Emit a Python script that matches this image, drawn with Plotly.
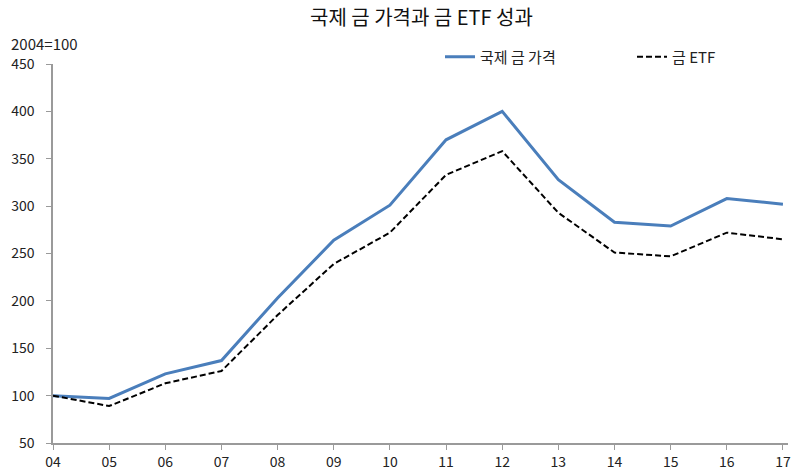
import plotly.graph_objects as go

categories = ["04", "05", "06", "07", "08", "09", "10", "11", "12", "13", "14", "15", "16", "17"]
gold_price = [100, 97, 123, 137, 203, 264, 301, 370, 400, 328, 283, 279, 308, 302]
gold_etf = [100, 89, 113, 126, 185, 239, 272, 333, 358, 293, 251, 247, 272, 265]
y_ticks = [50, 100, 150, 200, 250, 300, 350, 400, 450]

xs = list(range(len(categories)))
font = "Noto Sans CJK KR, Noto Sans, sans-serif"

L, R, T, B = 53, 12, 64, 32
PW, PH = 800 - L - R, 475 - T - B

def px_x(x):
    return (x - L) / PW

def px_y(y):
    return (475 - B - y) / PH

fig = go.Figure()
fig.add_trace(go.Scatter(x=xs, y=gold_price, mode="lines", name="국제 금 가격",
                         line=dict(color="#4A7EBB", width=3), legend="legend"))
fig.add_trace(go.Scatter(x=xs, y=gold_etf, mode="lines", name="금 ETF",
                         line=dict(color="#000000", width=2, dash="6px,3px"), legend="legend2"))

leg_common = dict(orientation="h", xanchor="left", y=px_y(57), yanchor="middle",
                  font=dict(size=15, color="#222"), bgcolor="rgba(0,0,0,0)")

fig.update_layout(
    template="none",
    width=800, height=475,
    margin=dict(l=L, r=R, t=T, b=B, autoexpand=False),
    paper_bgcolor="white", plot_bgcolor="white",
    font=dict(family=font, size=13, color="#222"),
    legend=dict(x=px_x(440), **leg_common),
    legend2=dict(x=px_x(632), **leg_common),
    showlegend=True,
)
fig.update_xaxes(
    tickmode="array", tickvals=xs, ticktext=categories, range=[0, 13.09], automargin=False,
    showline=True, linecolor="#9a9a9a", linewidth=1.5, ticks="outside", ticklen=5,
    tickcolor="#9a9a9a", showgrid=False, zeroline=False, tickfont=dict(size=14, color="#222"),
)
fig.update_yaxes(
    tickmode="array", tickvals=y_ticks, range=[50, 450], automargin=False,
    showline=True, linecolor="#9a9a9a", linewidth=1.5, ticks="outside", ticklen=5,
    ticklabelstandoff=9,
    tickcolor="#9a9a9a", showgrid=False, zeroline=False, tickfont=dict(size=14, color="#222"),
)
# chart title
fig.add_annotation(text="국제 금 가격과 금 ETF 성과", xref="paper", yref="paper",
                   x=px_x(421), y=px_y(16), xanchor="center", yanchor="middle", showarrow=False,
                   font=dict(size=20, color="#111", family=font))
fig.add_annotation(text="2004=100", xref="paper", yref="paper", x=px_x(9), y=px_y(43),
                   xanchor="left", yanchor="middle", showarrow=False,
                   font=dict(size=15, color="#222"))

fig.write_html("out.html")
